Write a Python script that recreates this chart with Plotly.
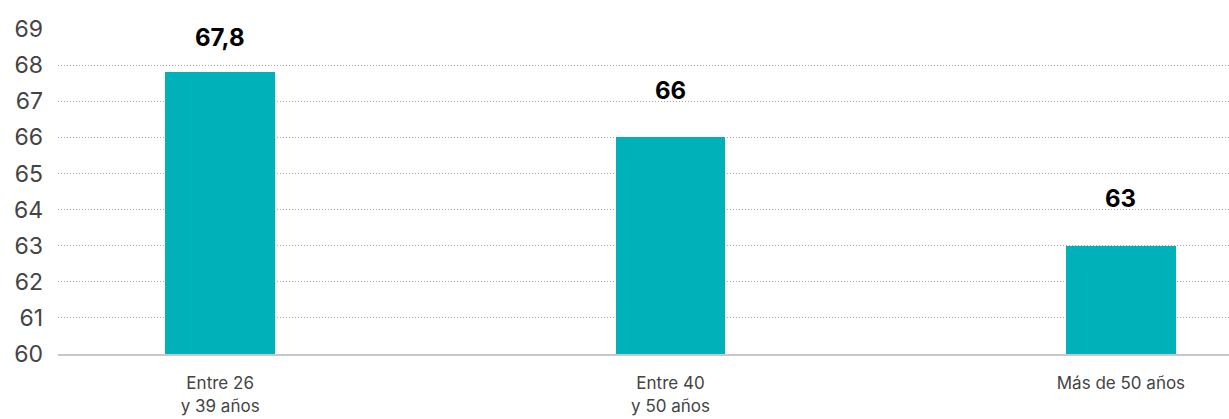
import plotly.graph_objects as go

categories = ["Entre 26<br>y 39 años", "Entre 40<br>y 50 años", "Más de 50 años"]
values = [67.8, 66, 63]
value_labels = ["67,8", "66", "63"]
y_ticks = list(range(60, 70))

bar_color = "#00b1ba"
x_pos = list(range(len(categories)))

fig = go.Figure()
fig.add_trace(go.Bar(
    x=x_pos,
    y=values,
    base=0,
    width=0.244,
    marker=dict(color=bar_color, line=dict(width=0)),
    hoverinfo="skip",
))

# value labels above each bar (kept below the top gridline)
for xi, v, lab in zip(x_pos, values, value_labels):
    fig.add_annotation(
        x=xi, y=min(v + 0.85, 68.3), text=f"<b>{lab}</b>",
        showarrow=False, yanchor="bottom", xanchor="center",
        font=dict(family="Inter, Lato, sans-serif", size=24, color="#000000"),
    )

fig.update_layout(
    width=1229, height=419,
    margin=dict(l=58, r=0, t=29, b=65),
    paper_bgcolor="white", plot_bgcolor="white",
    showlegend=False,
    bargap=0,
)
fig.update_xaxes(
    range=[-0.36, 2.24],
    tickmode="array", tickvals=x_pos, ticktext=categories,
    showgrid=False, zeroline=False,
    showline=True, linecolor="#c8c8c8", linewidth=2,
    ticks="", ticklabelstandoff=13,
    tickfont=dict(family="Inter, Lato, sans-serif", size=17, color="#444444"),
)
fig.update_yaxes(
    range=[60, 69],
    tickmode="array", tickvals=y_ticks,
    showgrid=True, gridcolor="#a8a8a8", griddash="1px,2px", gridwidth=1,
    zeroline=False, showline=False, ticks="",
    ticklabelstandoff=14,
    tickfont=dict(family="Inter, Lato, sans-serif", size=23, color="#444444"),
)

fig.write_html("out.html")
